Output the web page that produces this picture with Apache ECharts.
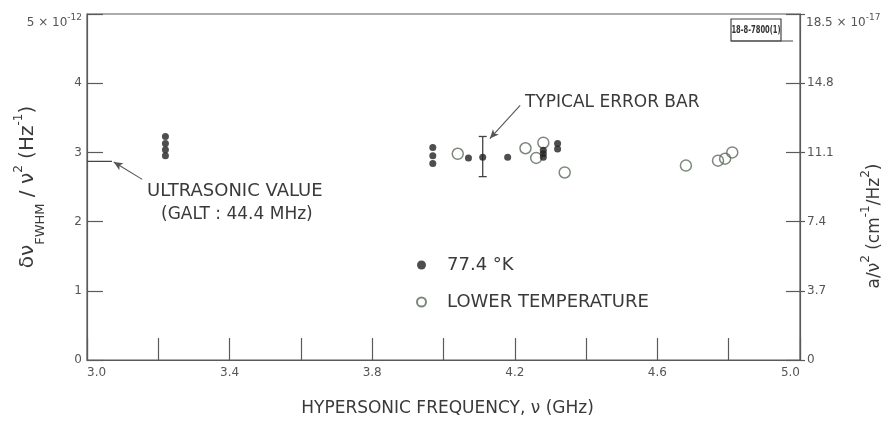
<!DOCTYPE html>
<html>
<head>
<meta charset="utf-8">
<script src="https://cdn.jsdelivr.net/npm/echarts/dist/echarts.min.js"></script>
<style>
  html, body { margin: 0; padding: 0; background: #fff; }
  #chart { width: 889px; height: 422px; }
</style>
</head>
<body>
<div id="chart"></div>
<script>
// Tick labels
const xTickLabels = ['3.0', '3.4', '3.8', '4.2', '4.6', '5.0'];
const leftTickLabels = ['0', '1', '2', '3', '4'];
const rightTickLabels = ['0', '3.7', '7.4', '11.1', '14.8'];

// Linewidth per frequency squared at 77.4 K (units of 1e-12 Hz^-1)
const freq77 = [3.22, 3.22, 3.22, 3.22, 3.97, 3.97, 3.97, 4.07, 4.11, 4.18, 4.28, 4.28, 4.28, 4.32, 4.32];
const width77 = [3.23, 3.13, 3.04, 2.95, 3.07, 2.95, 2.84, 2.92, 2.93, 2.93, 3.03, 2.98, 2.93, 3.13, 3.05];

// Linewidth per frequency squared at lower temperature
const freqLow = [4.04, 4.23, 4.26, 4.28, 4.34, 4.68, 4.77, 4.79, 4.81];
const widthLow = [2.98, 3.06, 2.92, 3.14, 2.71, 2.81, 2.88, 2.91, 3.00];

// Typical error bar
const errFreq = 4.11;
const errLow = 2.65;
const errHigh = 3.23;

// Ultrasonic reference value (Galt, 44.4 MHz)
const ultrasonicValue = 2.87;

const ink = '#3a3a3a';
const axisInk = '#5a5a5a';
const font = 'DejaVu Sans';

const chart = echarts.init(document.getElementById('chart'), null, { renderer: 'canvas' });

const pts77 = freq77.map((f, i) => [f, width77[i]]);
const ptsLow = freqLow.map((f, i) => [f, widthLow[i]]);

const supRich = { fontSize: 12, fontFamily: font, color: ink, lineHeight: 24, verticalAlign: 'top', padding: [-3, 0, 0, 0] };

const option = {
  backgroundColor: '#fff',
  animation: false,
  grid: {
    left: 87, right: 89, top: 14, bottom: 53,
    show: true, borderColor: axisInk, borderWidth: 1.2
  },
  xAxis: {
    type: 'value', min: 3.0, max: 5.0, interval: 0.2,
    axisLine: { show: true, lineStyle: { color: axisInk, width: 1.2 } },
    axisTick: { show: true, inside: true, length: 22, lineStyle: { color: axisInk, width: 1.2 } },
    splitLine: { show: false },
    axisLabel: {
      formatter: v => (xTickLabels.includes(v.toFixed(1)) ? v.toFixed(1) : ''),
      color: '#555', fontSize: 12, fontFamily: font, margin: 7,
      alignMinLabel: 'left', alignMaxLabel: 'right'
    },
    name: 'HYPERSONIC FREQUENCY, ν (GHz)',
    nameLocation: 'middle', nameGap: 40,
    nameTextStyle: { color: ink, fontSize: 17, fontFamily: font, padding: [0, 0, 0, 8] }
  },
  yAxis: [
    {
      type: 'value', min: 0, max: 5, interval: 1, position: 'left',
      axisLine: { show: true, lineStyle: { color: axisInk, width: 1.2 } },
      axisTick: { show: true, inside: true, length: 16, lineStyle: { color: axisInk, width: 1.2 } },
      splitLine: { show: false },
      axisLabel: {
        formatter: v => (v < 5 ? leftTickLabels[Math.round(v)] : ''),
        color: '#555', fontSize: 12, fontFamily: font, margin: 5
      },
      name: '{a|δν}{sub|FWHM}{a| / ν}{sup|2}{a| (Hz}{sup|-1}{a|)}',
      nameLocation: 'middle', nameGap: 47, nameRotate: 90,
      nameTextStyle: {
        color: ink, fontFamily: font,
        rich: {
          a: { fontSize: 20, fontFamily: font, color: ink, lineHeight: 24, verticalAlign: 'middle' },
          sub: { fontSize: 13, fontFamily: font, color: ink, lineHeight: 24, verticalAlign: 'bottom', padding: [0, 0, -7, 0] },
          sup: supRich
        }
      }
    },
    {
      type: 'value', min: 0, max: 18.5, interval: 3.7, position: 'right',
      axisLine: { show: true, lineStyle: { color: axisInk, width: 1.2 } },
      axisTick: { show: true, inside: true, length: 14, lineStyle: { color: axisInk, width: 1.2 } },
      splitLine: { show: false },
      axisLabel: {
        formatter: v => { const i = Math.round(v / 3.7); return i < 5 ? rightTickLabels[i] : ''; },
        color: '#555', fontSize: 12, fontFamily: font, margin: 7
      }
    },
    {
      type: 'value', min: 0, max: 18.5, interval: 3.7, position: 'right',
      axisLine: { show: false },
      axisTick: { show: true, inside: false, length: 5, lineStyle: { color: axisInk, width: 1.2 } },
      splitLine: { show: false },
      axisLabel: { show: false }
    }
  ],
  legend: {
    data: ['77.4 °K', 'LOWER TEMPERATURE'],
    orient: 'vertical', left: 411, top: 251,
    itemWidth: 9, itemHeight: 9, itemGap: 19,
    textStyle: { color: ink, fontSize: 18, fontFamily: font, padding: [0, 0, 0, 16] }
  },
  graphic: [
    { type: 'text', right: 889 - 82, top: 13,
      style: { text: '{m|5 × 10}{s|-12}',
        rich: { m: { fontSize: 12, fontFamily: font, fill: '#555', verticalAlign: 'bottom', lineHeight: 16 },
                s: { fontSize: 9, fontFamily: font, fill: '#555', verticalAlign: 'top', lineHeight: 16 } } } },
    { type: 'text', left: 806, top: 13,
      style: { text: '{m|18.5 × 10}{s|-17}',
        rich: { m: { fontSize: 12, fontFamily: font, fill: '#555', verticalAlign: 'bottom', lineHeight: 16 },
                s: { fontSize: 9, fontFamily: font, fill: '#555', verticalAlign: 'top', lineHeight: 16 } } } },
    { type: 'rect', shape: { x: 731, y: 19, width: 50, height: 22 },
      style: { fill: 'none', stroke: '#444', lineWidth: 1.2 } },
    { type: 'line', shape: { x1: 731, y1: 41, x2: 793, y2: 41 },
      style: { stroke: '#444', lineWidth: 1.2 } },
    { type: 'text', x: 756, y: 30, scaleX: 0.68, scaleY: 1,
      style: { text: '18-8-7800(1)', fill: '#333', font: 'bold 11px "DejaVu Sans Condensed", "DejaVu Sans"', align: 'center', verticalAlign: 'middle' } },
    { type: 'text', x: 875, y: 226, rotation: Math.PI / 2,
      style: { text: '{a|a/ν}{sup|2}{a| (cm}{sup|-1}{a|/Hz}{sup|2}{a|)}', align: 'center', verticalAlign: 'middle',
        rich: {
          a: { fontSize: 17, fontFamily: font, fill: ink, lineHeight: 24, verticalAlign: 'middle' },
          sup: { fontSize: 12, fontFamily: font, fill: ink, lineHeight: 24, verticalAlign: 'top', padding: [-3, 0, 0, 0] }
        } } },
    { type: 'text', x: 525, y: 103,
      style: { text: 'TYPICAL ERROR BAR', fill: ink, font: '17px "DejaVu Sans"', verticalAlign: 'middle' } },
    { type: 'text', x: 147, y: 191,
      style: { text: 'ULTRASONIC VALUE', fill: ink, font: '18px "DejaVu Sans"', verticalAlign: 'middle' } },
    { type: 'text', x: 161, y: 215,
      style: { text: '(GALT : 44.4 MHz)', fill: ink, font: '17px "DejaVu Sans"', verticalAlign: 'middle' } }
  ],
  series: [
    {
      name: '77.4 °K', type: 'scatter', yAxisIndex: 0, data: pts77,
      symbol: 'circle', symbolSize: 7, itemStyle: { color: '#222' }, z: 3
    },
    {
      name: 'LOWER TEMPERATURE', type: 'scatter', yAxisIndex: 0, data: ptsLow,
      symbol: 'circle', symbolSize: 11,
      itemStyle: { color: 'rgba(255,255,255,0)', borderColor: '#5d6a5d', borderWidth: 1.5 }, z: 2
    },
    {
      name: 'error bar', type: 'custom', yAxisIndex: 0,
      data: [[errFreq, errLow, errHigh]],
      renderItem: (params, api) => {
        const lo = api.coord([api.value(0), api.value(1)]);
        const hi = api.coord([api.value(0), api.value(2)]);
        const cap = 4;
        const st = { stroke: '#444', lineWidth: 1.3 };
        return { type: 'group', children: [
          { type: 'line', shape: { x1: lo[0], y1: lo[1], x2: hi[0], y2: hi[1] }, style: st },
          { type: 'line', shape: { x1: lo[0] - cap, y1: lo[1], x2: lo[0] + cap, y2: lo[1] }, style: st },
          { type: 'line', shape: { x1: hi[0] - cap, y1: hi[1], x2: hi[0] + cap, y2: hi[1] }, style: st }
        ] };
      },
      silent: true, z: 2,
      markLine: {
        silent: true, symbol: ['none', 'arrow'], symbolSize: [6, 9],
        lineStyle: { color: '#555', width: 1.1, type: 'solid' }, label: { show: false },
        data: [[{ coord: [4.215, 3.68] }, { coord: [4.13, 3.2] }]]
      }
    },
    {
      name: 'ultrasonic', type: 'line', yAxisIndex: 0,
      data: [[3.0, ultrasonicValue], [3.07, ultrasonicValue]],
      symbol: 'none', lineStyle: { color: '#444', width: 1.2 }, silent: true,
      markLine: {
        silent: true, symbol: ['none', 'arrow'], symbolSize: [6, 9],
        lineStyle: { color: '#555', width: 1.1, type: 'solid' }, label: { show: false },
        data: [[{ coord: [3.155, 2.61] }, { coord: [3.075, 2.86] }]]
      }
    }
  ]
};

chart.setOption(option);
</script>
</body>
</html>
